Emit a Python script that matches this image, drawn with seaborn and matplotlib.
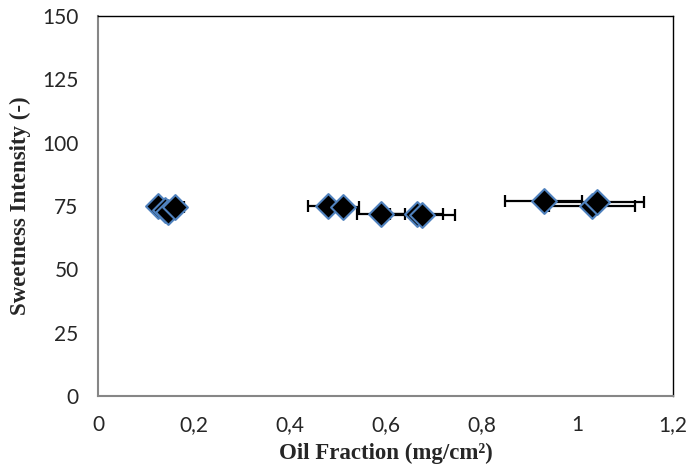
import matplotlib
matplotlib.use("Agg")
import matplotlib.pyplot as plt
import seaborn as sns
import pandas as pd
from matplotlib.ticker import FuncFormatter

oil_fraction = [0.125, 0.140, 0.145, 0.160, 0.480, 0.510, 0.590, 0.665, 0.675, 0.930, 1.030, 1.040]
sweetness = [75.0, 73.5, 72.5, 74.5, 75.0, 74.5, 72.0, 72.0, 71.5, 77.0, 75.0, 76.5]
oil_err = [0.010, 0.010, 0.010, 0.020, 0.042, 0.035, 0.050, 0.055, 0.070, 0.080, 0.090, 0.100]
x_ticks = [0, 0.2, 0.4, 0.6, 0.8, 1.0, 1.2]
y_ticks = [0, 25, 50, 75, 100, 125, 150]

df = pd.DataFrame({"oil": oil_fraction, "sweet": sweetness, "err": oil_err})

sns.set_style("white")
plt.rcParams["font.family"] = ["Lato", "DejaVu Sans"]

fig = plt.figure(figsize=(6.87, 4.71), dpi=100)
ax = fig.add_axes([0.1427, 0.1592, 0.8373, 0.8068])

ax.errorbar(df["oil"], df["sweet"], xerr=df["err"], fmt="none", ecolor="black",
            elinewidth=1.6, capsize=4.5, capthick=1.6, zorder=2)
sns.scatterplot(data=df, x="oil", y="sweet", marker="D", s=160, color="black",
                edgecolor="#4F81BD", linewidth=1.5, ax=ax, zorder=3)

ax.set_xlim(0, 1.2)
ax.set_ylim(0, 150)
ax.set_xticks(x_ticks)
ax.set_yticks(y_ticks)
ax.xaxis.set_major_formatter(FuncFormatter(lambda v, p: ("%g" % round(v, 2)).replace(".", ",")))
ax.tick_params(axis="both", labelsize=15, length=5, width=1.2, color="#868686", direction="out")
ax.tick_params(axis="x", pad=9)
ax.tick_params(axis="y", pad=9)

for s in ["left", "bottom"]:
    ax.spines[s].set_color("#868686")
    ax.spines[s].set_linewidth(1.5)
for s in ["top", "right"]:
    ax.spines[s].set_color("black")
    ax.spines[s].set_linewidth(1.0)

ax.set_xlabel("Oil Fraction (mg/cm²)", fontsize=16.5, fontweight="bold",
              family=["Liberation Serif", "DejaVu Serif"], labelpad=5)
ax.set_ylabel("Sweetness Intensity (-)", fontsize=16.5, fontweight="bold",
              family=["Liberation Serif", "DejaVu Serif"], labelpad=8)

fig.savefig("out.png", dpi=100)
